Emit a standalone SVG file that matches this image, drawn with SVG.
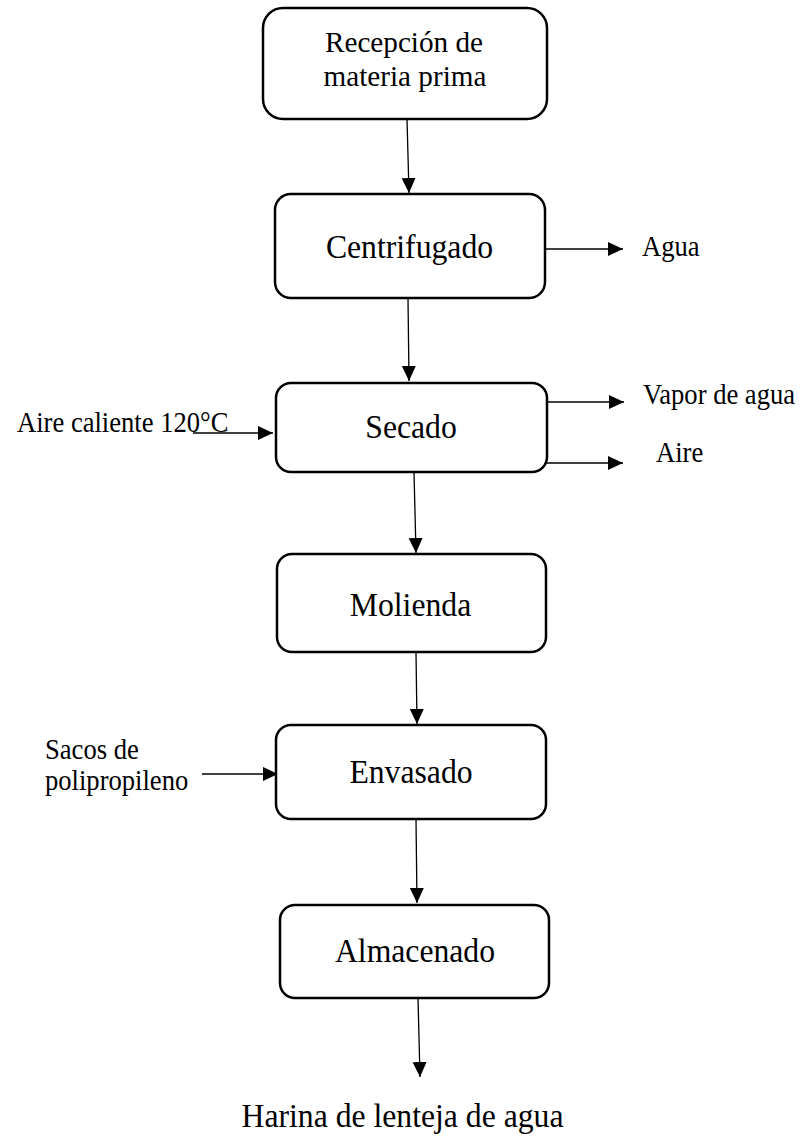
<svg xmlns="http://www.w3.org/2000/svg" width="803" height="1138" viewBox="0 0 803 1138">
<style>
.box{fill:#fff;stroke:#000;stroke-width:2.5}
.big{font-family:"Liberation Serif","Times New Roman",serif;font-size:31.7px;fill:#000}
.mid{font-family:"Liberation Serif","Times New Roman",serif;font-size:29.2px;fill:#000}
.sm{font-family:"Liberation Serif","Times New Roman",serif;font-size:26.6px;fill:#000}
.c{text-anchor:middle}
.ln{fill:none;stroke:#000;stroke-width:1.3;marker-end:url(#ah)}
</style>
<defs>
<marker id="ah" markerUnits="userSpaceOnUse" markerWidth="16" markerHeight="15" refX="15" refY="7" orient="auto">
<path d="M0,0 L15,7 L0,14 z" fill="#000"/>
</marker>
</defs>
<rect width="803" height="1138" fill="#fff"/>
<g id="connectors">
<line class="ln" x1="407" y1="119" x2="409" y2="193"/>
<line class="ln" x1="545" y1="249" x2="623" y2="249"/>
<line class="ln" x1="408" y1="298" x2="409" y2="381"/>
<line class="ln" x1="193" y1="433" x2="273" y2="433"/>
<line class="ln" x1="547" y1="402" x2="624" y2="402"/>
<line class="ln" x1="547" y1="463" x2="623" y2="463"/>
<line class="ln" x1="414" y1="472" x2="416" y2="553"/>
<line class="ln" x1="416" y1="652" x2="417" y2="724"/>
<line class="ln" x1="202" y1="774" x2="278" y2="774"/>
<line class="ln" x1="416" y1="819" x2="417" y2="903"/>
<line class="ln" x1="418" y1="998" x2="420" y2="1077"/>
</g>
<g id="recepcion">
<rect class="box" x="263" y="8" width="284" height="111" rx="20"/>
<text class="mid c" x="404" y="52">Recepción de</text>
<text class="mid c" x="405" y="86">materia prima</text>
</g>
<g id="centrifugado">
<rect class="box" x="275" y="194" width="270" height="104" rx="16"/>
<text class="big c" transform="translate(409.5,258) scale(1,1.09)">Centrifugado</text>
</g>
<g id="agua">
<text class="sm" transform="translate(642,256) scale(1,1.07)">Agua</text>
</g>
<g id="secado">
<rect class="box" x="276" y="383" width="271" height="89" rx="15"/>
<text class="big c" transform="translate(411,438) scale(1,1.09)">Secado</text>
</g>
<g id="aire-caliente">
<text class="sm" transform="translate(17,432) scale(1,1.07)">Aire caliente 120°C</text>
</g>
<g id="vapor">
<text class="sm" transform="translate(643,404) scale(1,1.07)">Vapor de agua</text>
</g>
<g id="aire">
<text class="sm" transform="translate(656,462) scale(1,1.07)">Aire</text>
</g>
<g id="molienda">
<rect class="box" x="277" y="554" width="269" height="98" rx="15"/>
<text class="big c" transform="translate(410.5,616) scale(1,1.09)">Molienda</text>
</g>
<g id="sacos">
<text class="sm" transform="translate(45,759) scale(1,1.07)">Sacos de</text>
<text class="sm" transform="translate(45,790) scale(1,1.07)">polipropileno</text>
</g>
<g id="envasado">
<rect class="box" x="276" y="725" width="270" height="94" rx="15"/>
<text class="big c" transform="translate(411,783) scale(1,1.09)">Envasado</text>
</g>
<g id="almacenado">
<rect class="box" x="280" y="905" width="269" height="93" rx="15"/>
<text class="big c" transform="translate(415,962) scale(1,1.09)">Almacenado</text>
</g>
<g id="harina">
<text class="big c" transform="translate(402.5,1127) scale(1,1.09)">Harina de lenteja de agua</text>
</g>
</svg>
